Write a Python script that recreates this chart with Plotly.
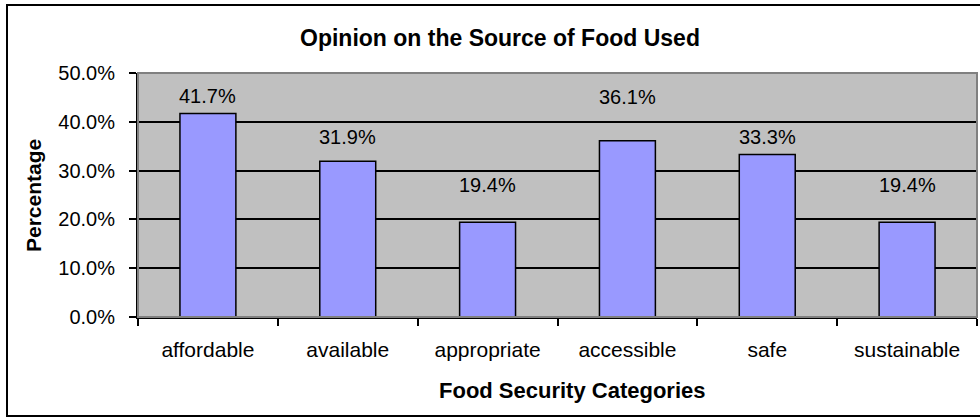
import plotly.graph_objects as go

categories = ["affordable", "available", "appropriate", "accessible", "safe", "sustainable"]
values = [0.417, 0.319, 0.194, 0.361, 0.333, 0.194]
value_labels = ["41.7%", "31.9%", "19.4%", "36.1%", "33.3%", "19.4%"]

FONT = "Liberation Sans, Arial, sans-serif"

# pixel geometry helpers (plot area 138..977 x, 73..317 y)
L, R, T, B = 138, 977, 73, 317
W, H = R - L, B - T
def px(x):
    return (x - L) / W
def py(y):
    return (B - y) / H

# label offsets above bar tops (pixels), as placed in the original chart
label_yshift = [18, 24, 37, 44, 18, 37]

fig = go.Figure()
fig.add_trace(go.Bar(
    x=categories, y=values,
    marker=dict(color="#9999FF", line=dict(color="black", width=1.5)),
    width=0.4, hoverinfo="skip",
))

for c, v, t, s in zip(categories, values, value_labels, label_yshift):
    fig.add_annotation(x=c, y=v, text=t, showarrow=False, yanchor="middle",
                       yshift=s, font=dict(family=FONT, size=20, color="black"))

fig.add_annotation(xref="paper", yref="paper", x=px(500), y=py(38),
                   text="<b>Opinion on the Source of Food Used</b>", showarrow=False,
                   xanchor="center", yanchor="middle",
                   font=dict(family=FONT, size=23, color="black"))
fig.add_annotation(xref="paper", yref="paper", x=px(33), y=py(195),
                   text="<b>Percentage</b>", textangle=-90, showarrow=False,
                   xanchor="center", yanchor="middle",
                   font=dict(family=FONT, size=21, color="black"))
fig.add_annotation(xref="paper", yref="paper", x=px(572), y=py(390),
                   text="<b>Food Security Categories</b>", showarrow=False,
                   xanchor="center", yanchor="middle",
                   font=dict(family=FONT, size=22, color="black"))

# plot area gray frame (top/right)
fig.add_shape(type="rect", xref="paper", yref="paper", x0=0, x1=1, y0=0, y1=1,
              line=dict(color="#808080", width=2), layer="above")
# outer chart border
fig.add_shape(type="rect", xref="paper", yref="paper",
              x0=px(7), x1=px(990), y0=py(416), y1=py(5),
              line=dict(color="black", width=2), layer="above")

fig.update_layout(
    width=980, height=418,
    margin=dict(l=L, r=980 - R, t=T, b=418 - B),
    paper_bgcolor="white", plot_bgcolor="#C0C0C0",
    showlegend=False,
    font=dict(family=FONT, color="black"),
)
fig.update_xaxes(
    type="category", showline=True, linecolor="black", linewidth=2,
    ticks="outside", tickson="boundaries", ticklen=7, tickwidth=2, tickcolor="black",
    tickfont=dict(family=FONT, size=21, color="black"), ticklabelstandoff=13,
    showgrid=False, range=[-0.5, 5.5],
)
fig.update_yaxes(
    range=[0, 0.5], dtick=0.1, tickformat=".1%",
    showline=True, linecolor="black", linewidth=2,
    ticks="outside", ticklen=7, tickwidth=2, tickcolor="black",
    tickfont=dict(family=FONT, size=20, color="black"), ticklabelstandoff=10,
    showgrid=True, gridcolor="black", gridwidth=1.5, zeroline=False,
)

fig.write_html("out.html", config={"displayModeBar": False},
               post_script="document.body.style.margin='0';document.body.style.overflow='hidden';")
